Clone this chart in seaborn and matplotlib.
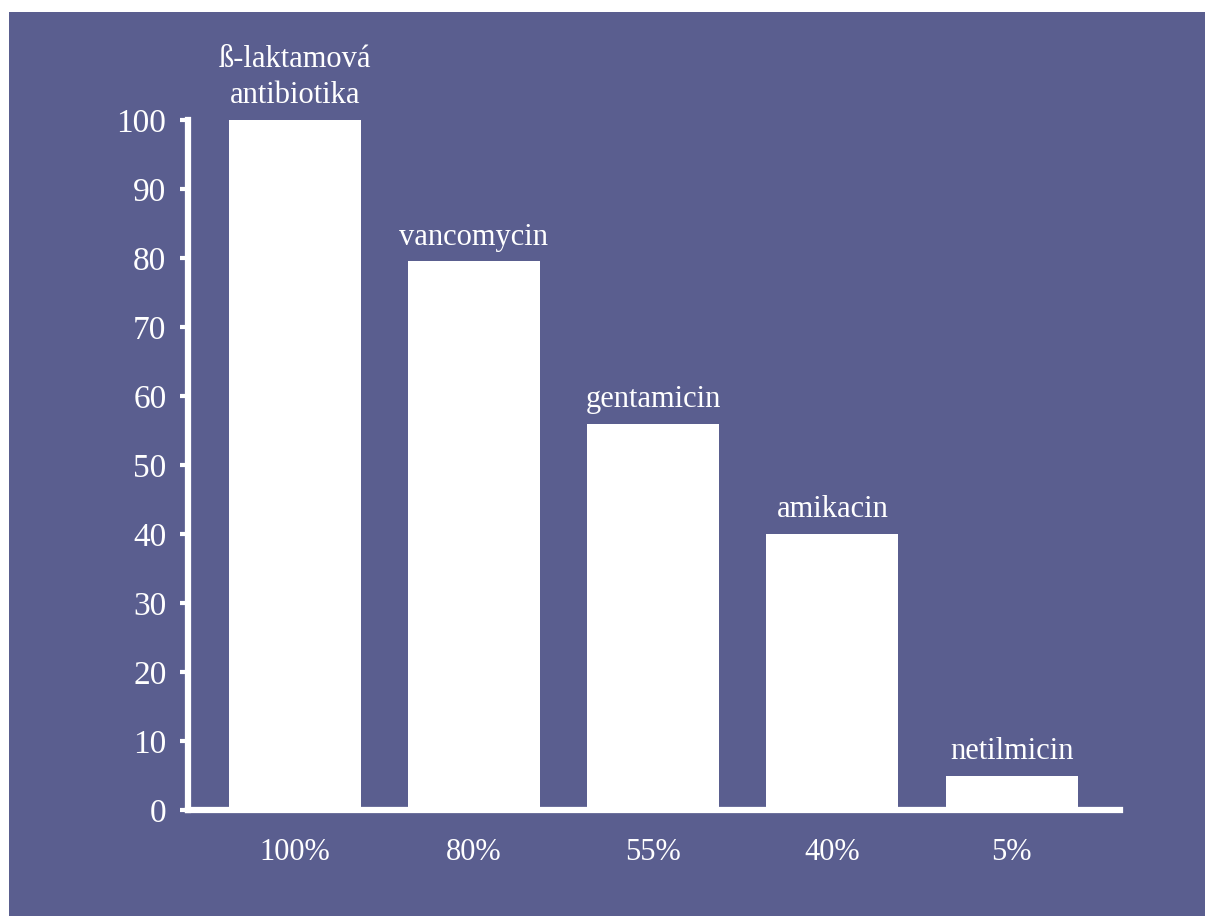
import matplotlib
matplotlib.use("Agg")
import matplotlib.pyplot as plt
import seaborn as sns
import pandas as pd
from matplotlib.patches import Rectangle

categories = ["100%", "80%", "55%", "40%", "5%"]
values = [100, 79.5, 56, 40, 5]
bar_labels = ["ß-laktamová\nantibiotika", "vancomycin", "gentamicin", "amikacin", "netilmicin"]
yticks = [0, 10, 20, 30, 40, 50, 60, 70, 80, 90, 100]

BG = "#5A5E8F"
sns.set_style("ticks")
plt.rcParams["font.family"] = ["Liberation Serif", "DejaVu Serif"]

fig = plt.figure(figsize=(12.08, 9.16), dpi=100, facecolor="white")
bg = Rectangle((9 / 1208, 0), (1205 - 9) / 1208, (916 - 12) / 916,
               transform=fig.transFigure, facecolor=BG, edgecolor="none", zorder=-10)
fig.add_artist(bg)
ax = fig.add_axes([188 / 1208, 106 / 916, (1120 - 188) / 1208, 690 / 916])
ax.set_zorder(5)
ax.set_facecolor("none")

df = pd.DataFrame({"cat": categories, "val": values})
sns.barplot(data=df, x="cat", y="val", color="white", saturation=1, width=0.737,
            edgecolor="none", linewidth=0, ax=ax)

for i, (v, lab) in enumerate(zip(values, bar_labels)):
    ax.annotate(lab, xy=(i, v), xytext=(0, 7), textcoords="offset points",
                ha="center", va="bottom", color="white", fontsize=22, linespacing=1.32,
                annotation_clip=False)

ax.set_xlim(-0.595, 4.605)
ax.set_ylim(0, 100)
ax.set_yticks(yticks)
ax.set_xlabel("")
ax.set_ylabel("")
for s in ["top", "right"]:
    ax.spines[s].set_visible(False)
for s in ["left", "bottom"]:
    ax.spines[s].set_color("white")
    ax.spines[s].set_linewidth(4.5)
    ax.spines[s].set_zorder(5)
ax.tick_params(axis="y", colors="white", labelsize=24, length=5.5, width=3, pad=10, direction="out")
ax.tick_params(axis="x", colors="white", labelsize=22, length=0, pad=20)

fig.savefig("out.png", dpi=100, facecolor="white")
